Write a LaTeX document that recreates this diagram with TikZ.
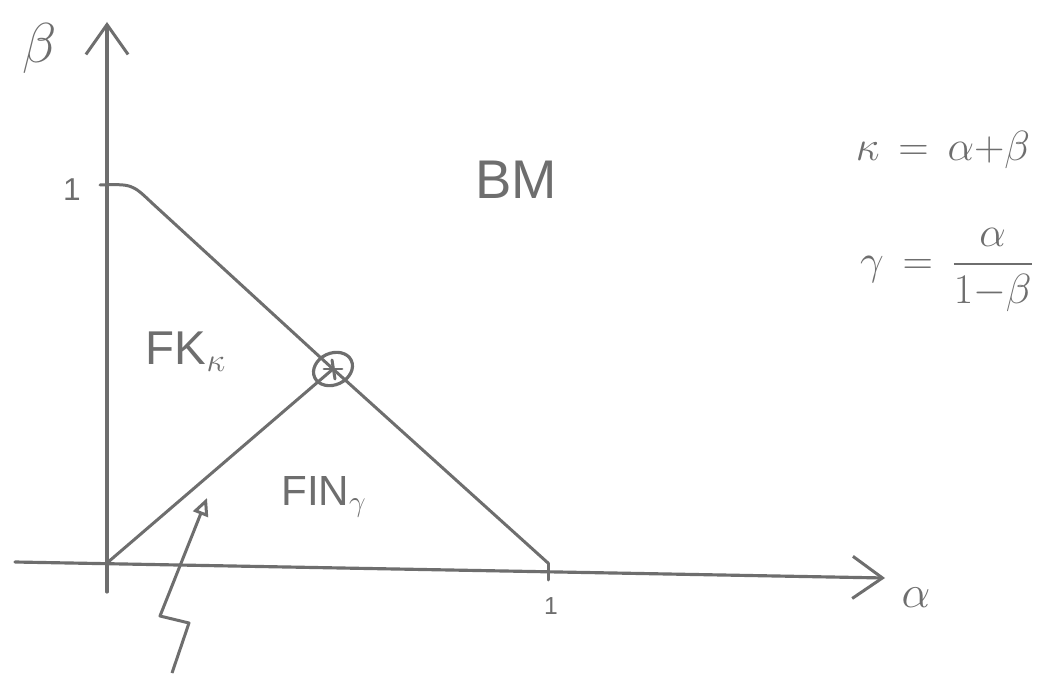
\RequirePackage{fix-cm}
\documentclass[tikz,border=0pt]{standalone}
\usepackage{amsmath,amssymb}
\usepackage{fontspec}
\setsansfont{Liberation Sans}
\usepackage{tikz}
\usetikzlibrary{arrows.meta,positioning,shapes.geometric,calc}
\definecolor{pencilgray}{HTML}{6E6E6E}
\definecolor{papergray}{HTML}{FFFFFF}
\tikzset{
  axisline/.style={line width=1.8pt, draw=pencilgray, line cap=round},
  boundline/.style={line width=1.7pt, draw=pencilgray, line cap=round, line join=round},
  axisarrow/.style={-{Straight Barb[length=17pt, width=24pt, line width=1.7pt]}},
  pointerline/.style={line width=1.7pt, draw=pencilgray, line join=round, -{Triangle[open, length=10pt, width=9pt, line width=1.7pt]}},
  regionlabel/.style={text=pencilgray, font=\sffamily\fontsize{27}{32}\selectfont, inner sep=1pt},
  ticklabel/.style={text=pencilgray, font=\sffamily\fontsize{18}{22}\selectfont, inner sep=1pt},
  formula/.style={text=pencilgray, font=\fontsize{24}{30}\selectfont, inner sep=1pt}
}

\begin{document}
\begin{tikzpicture}[x=0.02cm, y=-0.02cm]
  \useasboundingbox[fill=papergray] (0,0) rectangle (1040,675);
  % axes
  \coordinate (origin) at (107,563);
  \coordinate (ybottom) at (107,592);
  \coordinate (ytop) at (107,22);
  \coordinate (xleft) at (15,562);
  \coordinate (xright) at (885,578);
  \draw[axisline, axisarrow] (ybottom) -- (ytop);
  \draw[axisline, axisarrow] (xleft) -- (xright);
  \node[formula, font=\fontsize{32}{36}\selectfont] (betalabel) at (40,48) {$\beta$};
  \node[formula, font=\fontsize{26}{30}\selectfont] (alphalabel) at (916,598) {$\alpha$};
  % ticks
  \coordinate (yone) at (100,185);
  \coordinate (xone) at (548,563);
  \coordinate (xonetick) at (548,580);
  \draw[boundline] (xone) -- (xonetick);
  \node[ticklabel] (yonelabel) at (72,190) {1};
  \node[ticklabel, font=\sffamily\fontsize{14}{16}\selectfont] (xonelabel) at (551,606) {1};
  % triple point
  \node[ellipse, draw=pencilgray, line width=1.8pt, minimum width=23pt, minimum height=18pt,
        inner sep=0pt, rotate=25] (triple) at (333,369) {};
  \draw[boundline] ($(triple.center)+(-9,0)$) -- ($(triple.center)+(9,0)$);
  \draw[boundline] ($(triple.center)+(-1,-9)$) -- ($(triple.center)+(2,10)$);
  % phase boundaries
  \draw[boundline] (yone) .. controls (132,184) .. (152,203) -- (triple.center) -- (xone);
  \draw[boundline] (origin) -- (triple.center);
  % pointer
  \coordinate (pointerstart) at (172,673);
  \coordinate (pointerjogA) at (189,623);
  \coordinate (pointerjogB) at (160,616);
  \coordinate (pointertip) at (207,498);
  \draw[pointerline] (pointerstart) -- (pointerjogA) -- (pointerjogB) -- (pointertip);
  % region labels
  \node[regionlabel, font=\sffamily\fontsize{31}{36}\selectfont] (bm) at (516,180) {BM};
  \node[regionlabel] (fk) at (186,352) {FK$_{\kappa}$};
  \node[regionlabel, font=\sffamily\fontsize{24}{28}\selectfont] (fin) at (324,497) {FIN$_{\gamma}$};
  % definitions
  \node[formula] (kappadef) at (943,150) {$\kappa\,=\,\alpha{+}\beta$};
  \node[formula, anchor=west] (gammadef) at (858,270) {$\gamma\,=\,\dfrac{\alpha}{1{-}\beta}$};
\end{tikzpicture}
\end{document}
